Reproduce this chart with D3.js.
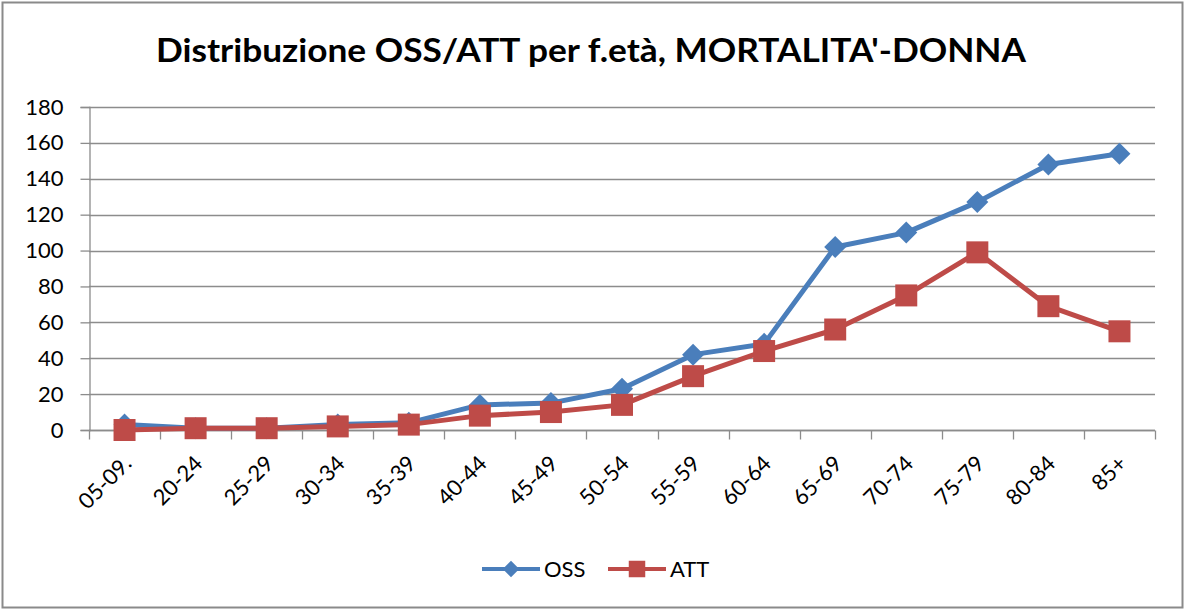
<!DOCTYPE html>
<html>
<head>
<meta charset="utf-8">
<script src="https://cdn.jsdelivr.net/npm/d3@7"></script>
<style>
body { margin: 0; background: #fff; }
svg text { font-family: Lato, "Open Sans", sans-serif; fill: #000; }
</style>
</head>
<body>
<svg id="svg" width="1185" height="610"></svg>
<script>
// data
var categories = ["05-09.", "20-24", "25-29", "30-34", "35-39", "40-44", "45-49", "50-54",
                  "55-59", "60-64", "65-69", "70-74", "75-79", "80-84", "85+"];
var oss = [3, 1, 1, 3, 4, 14, 15, 23, 42, 48, 102, 110, 127, 148, 154];
var att = [0, 1, 1, 2, 3, 8, 10, 14, 30, 44, 56, 75, 99, 69, 55];
var yTicks = [0, 20, 40, 60, 80, 100, 120, 140, 160, 180];

var width = 1185, height = 610;
var svg = d3.select("svg");

// frame
svg.append("rect").attr("x", 2.5).attr("y", 2.5).attr("width", width - 5).attr("height", height - 5)
  .attr("fill", "#fff").attr("stroke", "#8a8a8a").attr("stroke-width", 2);

var pLeft = 89, pRight = 1155, pTop = 107, pBottom = 430;

var x = d3.scaleBand().domain(categories).range([pLeft, pRight]);
var y = d3.scaleLinear().domain([0, 180]).range([pBottom, pTop]);

// title
svg.append("text")
  .attr("x", 591).attr("y", 62)
  .attr("text-anchor", "middle")
  .attr("textLength", 870).attr("lengthAdjust", "spacingAndGlyphs")
  .style("font-size", "32px").style("font-weight", "bold")
  .text("Distribuzione OSS/ATT per f.età, MORTALITA'-DONNA");

// gridlines
svg.append("g").selectAll("line").data(yTicks).join("line")
  .attr("x1", pLeft).attr("x2", pRight)
  .attr("y1", d => Math.round(y(d)) + 0.5).attr("y2", d => Math.round(y(d)) + 0.5)
  .attr("stroke", "#8c8c8c").attr("stroke-width", 1.3);

// y axis
var yAxis = d3.axisLeft(y).tickValues(yTicks).tickSize(9).tickPadding(17);
var gy = svg.append("g").attr("transform", "translate(" + (pLeft + 0.5) + ",0)").call(yAxis);
gy.selectAll("path, line").attr("stroke", "#8c8c8c").attr("stroke-width", 1.3);
gy.selectAll("text").style("font-size", "22px").attr("font-family", null).attr("fill", "#000");

// x axis, ticks on the category boundaries
var gx = svg.append("g").attr("transform", "translate(0," + (pBottom + 0.5) + ")");
gx.append("line").attr("x1", pLeft).attr("x2", pRight).attr("stroke", "#8c8c8c").attr("stroke-width", 1.3);
var bounds = d3.range(categories.length + 1).map(i => pLeft + i * x.bandwidth());
gx.selectAll("line.tk").data(bounds).join("line").attr("class", "tk")
  .attr("x1", d => Math.round(d) + 0.5).attr("x2", d => Math.round(d) + 0.5)
  .attr("y1", 0).attr("y2", 9)
  .attr("stroke", "#8c8c8c").attr("stroke-width", 1.3);
gx.selectAll("text").data(categories).join("text")
  .attr("transform", d => "translate(" + (x(d) + x.bandwidth() / 2 + 3) + ",29) rotate(-45)")
  .attr("text-anchor", "end")
  .attr("dy", "0.35em")
  .style("font-size", "22px")
  .text(d => d);

var cx = d => x(d) + x.bandwidth() / 2;
var blue = "#4a7ebb", red = "#be4b48";

function series(vals, color, shape) {
  var pts = categories.map((c, i) => [cx(c), y(vals[i])]);
  svg.append("path").attr("d", d3.line()(pts))
    .attr("fill", "none").attr("stroke", color).attr("stroke-width", 5)
    .attr("stroke-linejoin", "round").attr("stroke-linecap", "round");
  svg.append("g").selectAll("path").data(pts).join("path")
    .attr("d", shape)
    .attr("transform", d => "translate(" + d[0] + "," + d[1] + ")")
    .attr("fill", color);
}
var diamond = "M0,-11L11,0L0,11L-11,0Z";
var square = "M-11,-11H11V11H-11Z";
series(oss, blue, diamond);
series(att, red, square);

// legend
var leg = [["OSS", blue, diamond, 482], ["ATT", red, square, 608]];
leg.forEach(l => {
  var g = svg.append("g").attr("transform", "translate(" + l[3] + ",569)");
  g.append("line").attr("x1", 0).attr("x2", 58).attr("stroke", l[1]).attr("stroke-width", 4);
  g.append("path").attr("d", l[2]).attr("transform", "translate(29,0) scale(0.75)").attr("fill", l[1]);
  g.append("text").attr("x", 62).attr("dy", "0.35em").style("font-size", "22px").text(l[0]);
});
</script>
</body>
</html>
